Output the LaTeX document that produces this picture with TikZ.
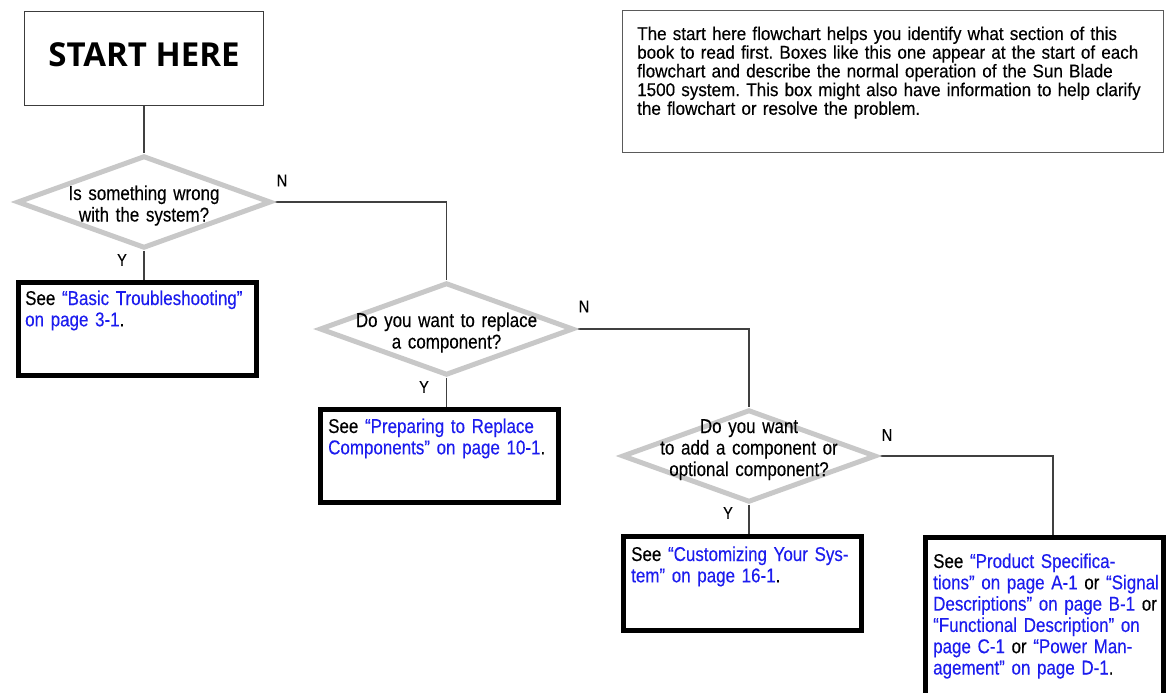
\documentclass[tikz,border=0pt]{standalone}
\usepackage{fontspec}
\setmainfont{Liberation Sans}[FakeStretch=0.848,FakeBold=0.3]
\newfontfamily\notefont{Liberation Sans}[FakeStretch=0.922,FakeBold=0.3]
\newfontfamily\startfont{Open Sans}
\usetikzlibrary{shapes.geometric,backgrounds}
\definecolor{linkblue}{RGB}{28,28,238}
\definecolor{diagray}{RGB}{200,200,200}
\definecolor{conncol}{RGB}{64,64,64}
\definecolor{framegray}{RGB}{60,60,60}
\definecolor{notegray}{RGB}{90,90,90}
\newcommand\lnk[1]{\textcolor{linkblue}{#1}}
\frenchspacing
\begin{document}
\begin{tikzpicture}[x=1pt,y=-1pt,
  seebox/.style={rectangle,draw=black,line width=5pt,minimum width=238pt,minimum height=93pt,inner sep=0pt},
  decision/.style={diamond,draw=diagray,line width=5pt,minimum width=254pt,minimum height=92.6pt,inner sep=0pt},
  startbox/.style={rectangle,draw=framegray,line width=1pt,minimum width=239pt,minimum height=94pt,inner sep=0pt},
  notebox/.style={rectangle,draw=notegray,line width=1.2pt,minimum width=540.8pt,minimum height=141.8pt,inner sep=0pt},
  conn/.style={draw=conncol,line width=1.3pt},
  boxtext/.style={anchor=base west,text width=236pt,align=left,inner sep=0pt,font=\fontsize{20}{21.3}\selectfont},
  qtext/.style={anchor=base,text width=280pt,align=center,inner sep=0pt,font=\fontsize{20}{21.5}\selectfont},
  notetext/.style={anchor=base west,text width=535pt,align=left,inner sep=0pt,font=\notefont\fontsize{18.5}{18.7}\selectfont},
  yn/.style={inner sep=0pt,font=\fontsize{17}{19}\selectfont},
  starttext/.style={inner sep=0pt,font=\startfont\bfseries\fontsize{33}{40}\selectfont}]
\useasboundingbox (0,0) rectangle (1168,693);
\clip (0,0) rectangle (1168,693);

% start and note
\node[startbox] (start) at (144,58.5) {};
\node[starttext] (starttxt) at (144,54.5) {START HERE};
\node[notebox] (note) at (893,81.5) {};
\node[notetext] (notetxt) at (637,40) {The start here flowchart helps you identify what section of this\\
book to read first. Boxes like this one appear at the start of each\\
flowchart and describe the normal operation of the Sun Blade\\
1500 system. This box might also have information to help clarify\\
the flowchart or resolve the problem.};

% decisions
\node[decision] (d1) at (144,202) {};
\node[decision] (d2) at (446.5,329) {};
\node[decision] (d3) at (749,456) {};
\node[qtext] (d1t) at (144,200) {Is something wrong\\with the system?};
\node[qtext] (d2t) at (446.5,327) {Do you want to replace\\a component?};
\node[qtext] (d3t) at (749,433) {Do you want\\to add a component or\\optional component?};

% answer boxes
\node[seebox] (b1) at (137,329) {};
\node[seebox] (b2) at (439,456) {};
\node[seebox,minimum height=94pt] (b3) at (742.5,583.5) {};
\node[seebox,minimum height=200pt] (b4) at (1044.5,637.5) {};

\node[boxtext] (b1t) at (25,305) {See \lnk{“Basic Troubleshooting”}\\
\lnk{on page 3-1}.};
\node[boxtext] (b2t) at (328,433) {See \lnk{“Preparing to Replace}\\
\lnk{Components” on page 10-1}.};
\node[boxtext] (b3t) at (631,561) {See \lnk{“Customizing Your Sys-}\\
\lnk{tem” on page 16-1}.};
\node[boxtext] (b4t) at (933,568) {See \lnk{“Product Specifica-}\\
\lnk{tions” on page A-1} or \lnk{“Signal}\\
\lnk{Descriptions” on page B-1} or\\
\lnk{“Functional Description” on}\\
\lnk{page C-1} or \lnk{“Power Man-}\\
\lnk{agement” on page D-1}.};

% labels
\node[yn] (n1) at (282,180.5) {N};
\node[yn] (y1) at (122,260) {Y};
\node[yn] (n2) at (584,306.5) {N};
\node[yn] (y2) at (424,387) {Y};
\node[yn] (n3) at (887,435) {N};
\node[yn] (y3) at (728,513) {Y};

% connectors
\begin{scope}[on background layer]
\draw[conn] (start.south) -- (d1.north);
\draw[conn] (d1.east) -| (d2.north);
\draw[conn] (d1.south) -- (d1.south |- b1.north);
\draw[conn] (d2.east) -| (d3.north);
\draw[conn] (d2.south) -- (d2.south |- b2.north);
\draw[conn] (d3.east) -| ([xshift=8.5pt]b4.north);
\draw[conn] (d3.south) -- (d3.south |- b3.north);
\end{scope}
\end{tikzpicture}
\end{document}
